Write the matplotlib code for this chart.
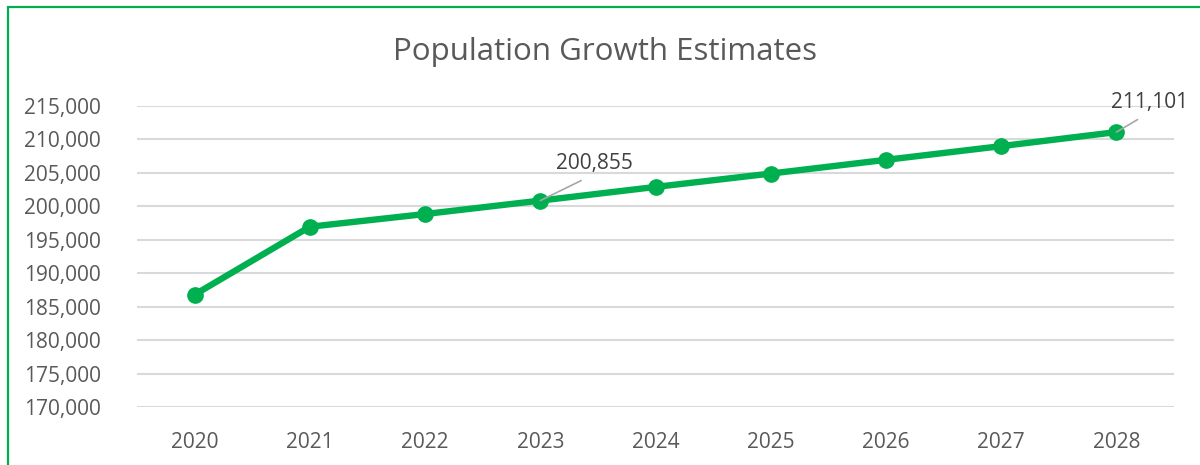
import matplotlib.pyplot as plt
from matplotlib.patches import Rectangle
from matplotlib.ticker import FuncFormatter

plt.rcParams['font.family'] = ['Open Sans', 'DejaVu Sans']

# data
years = ['2020', '2021', '2022', '2023', '2024', '2025', '2026', '2027', '2028']
population = [186800, 196950, 198850, 200855, 202900, 204900, 206950, 209000, 211101]
labelled = [3, 8]  # points with a data label
label_offsets = [(54, 37), (33, 30)]  # text offset in pixels

green = '#00B050'
txt = '#595959'

fig = plt.figure(figsize=(12, 4.65), dpi=100)
# green chart border (right and bottom run off the image)
fig.patches.append(Rectangle((8 / 1200, -0.1), 1.2, 1 - 7 / 465 + 0.1, transform=fig.transFigure,
                             fill=False, edgecolor=green, lw=1.6))

ax = fig.add_axes([137 / 1200, 58 / 465, 1037 / 1200, 301 / 465])
x = list(range(len(years)))
ax.plot(x, population, color=green, lw=4.6, marker='o', ms=11, solid_capstyle='round', zorder=3)

for i, off in zip(labelled, label_offsets):
    ax.annotate(f'{population[i]:,}', xy=(x[i], population[i]), xytext=off,
                textcoords='offset pixels', ha='center', va='center', fontsize=15, color='#404040',
                arrowprops=dict(arrowstyle='-', color='#A6A6A6', lw=1.2, relpos=(0.5, 0),
                                shrinkA=6, shrinkB=0), zorder=4)

ax.set_xlim(-0.5, len(years) - 0.5)
ax.set_ylim(170000, 215000)
ax.set_yticks(range(170000, 215001, 5000))
ax.yaxis.set_major_formatter(FuncFormatter(lambda v, p: f'{int(v):,}'))
ax.set_xticks(x)
ax.set_xticklabels(years)
ax.grid(axis='y', color='#D9D9D9', lw=1.5)
ax.set_axisbelow(True)
for s in ax.spines.values():
    s.set_visible(False)
ax.tick_params(length=0, labelsize=15, labelcolor=txt)
ax.tick_params(axis='x', pad=18)
ax.tick_params(axis='y', pad=26)

fig.text(605 / 1200, 1 - 52 / 465, 'Population Growth Estimates', ha='center', va='center',
         fontsize=22.5, color=txt)

fig.savefig('out.png', dpi=100)
